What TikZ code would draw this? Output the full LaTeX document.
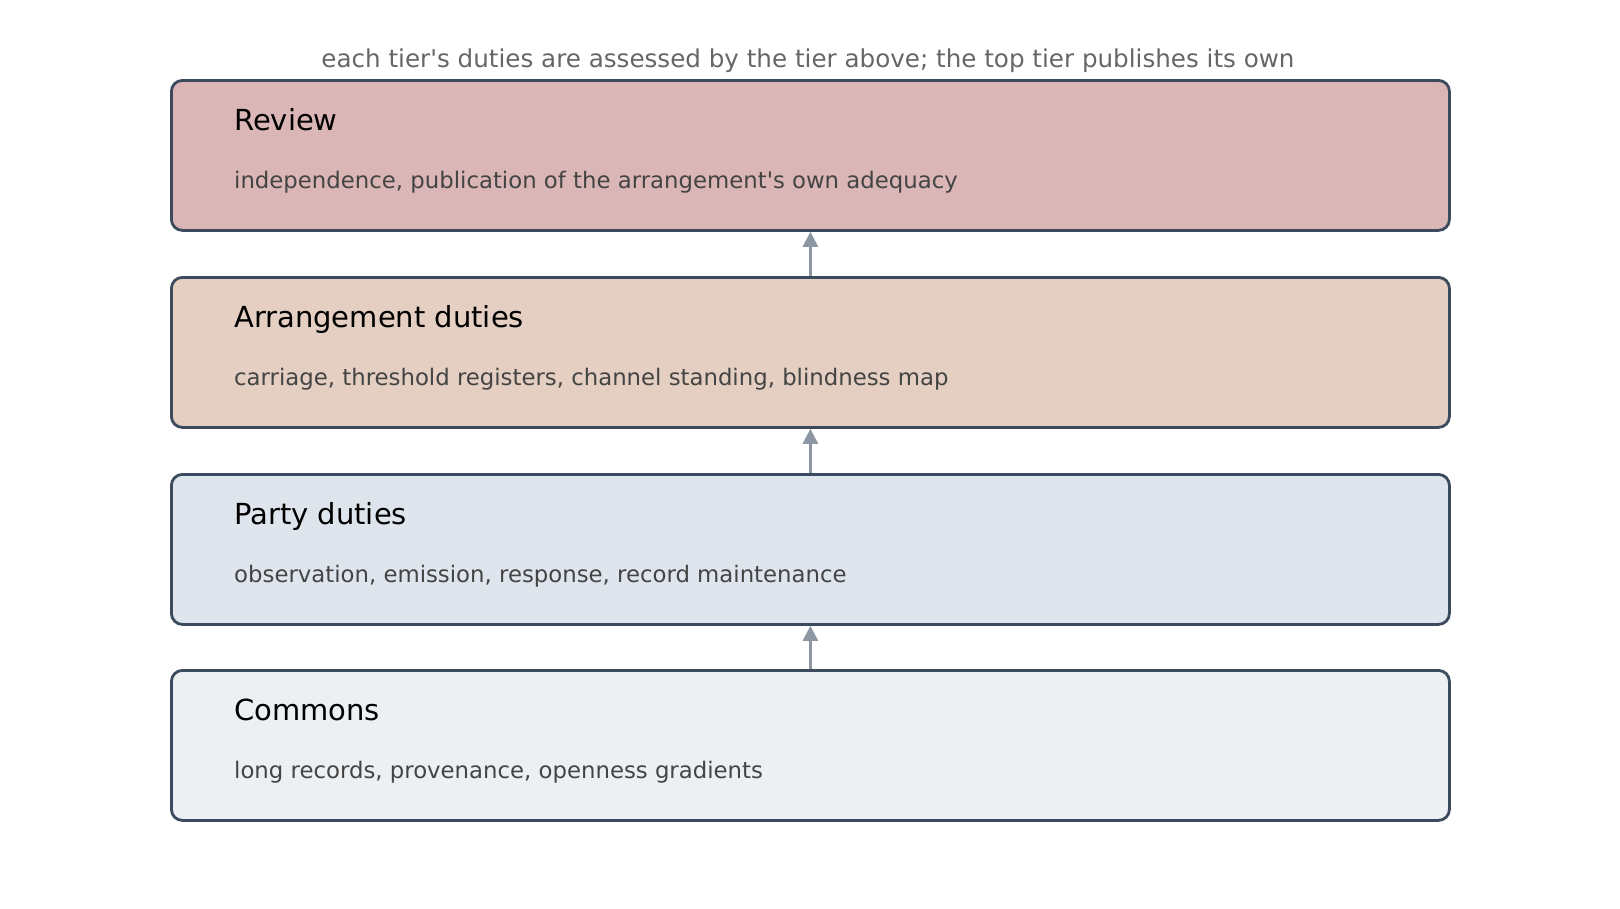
\documentclass[tikz,border=0pt]{standalone}
\usepackage{fontspec}
\setmainfont{DejaVu Sans}
\usetikzlibrary{arrows.meta,calc}
\definecolor{borderc}{HTML}{3B4A5C}
\definecolor{arrowc}{HTML}{8D97A3}
\definecolor{titlec}{HTML}{666666}
\definecolor{subc}{HTML}{444444}
\definecolor{headc}{HTML}{000000}
\definecolor{fillrev}{HTML}{DBB6B6}
\definecolor{fillarr}{HTML}{E4CFC2}
\definecolor{fillpar}{HTML}{DFE5EC}
\definecolor{fillcom}{HTML}{ECF0F3}
\tikzset{
  tierbox/.style={draw=borderc, line width=2.8pt, rounded corners=11pt,
    minimum width=1278pt, minimum height=150pt, inner sep=0pt, anchor=north west},
  tierhead/.style={anchor=base west, inner sep=0pt, text=headc, font=\fontsize{29}{33}\selectfont},
  tiersub/.style={anchor=base west, inner sep=0pt, text=subc, font=\fontsize{22.8}{26}\selectfont},
  uparrow/.style={draw=arrowc, line width=2.6pt, -{Triangle[length=15pt,width=15pt]}},
  toptitle/.style={anchor=base, inner sep=0pt, text=titlec, font=\fontsize{24.6}{28}\selectfont}
}
\begin{document}
\begin{tikzpicture}[x=1pt,y=-1pt]
\useasboundingbox (0,0) rectangle (1620,908);
\node[toptitle] (title) at (808,67) {each tier\textquotesingle s duties are assessed by the tier above; the top tier publishes its own};
\node[tierbox, fill=fillrev] (rev) at (170,79) {};
\node[tierbox, fill=fillarr] (arr) at (170,276) {};
\node[tierbox, fill=fillpar] (par) at (170,473) {};
\node[tierbox, fill=fillcom] (com) at (170,669) {};
\foreach \b/\h/\s in {rev/Review/{independence, publication of the arrangement\textquotesingle s own adequacy},
                      arr/Arrangement duties/{carriage, threshold registers, channel standing, blindness map},
                      par/Party duties/{observation, emission, response, record maintenance},
                      com/Commons/{long records, provenance, openness gradients}}{
  \node[tierhead] (\b-h) at ($(\b.north west)+(64,51.5)$) {\h};
  \node[tiersub] (\b-s) at ($(\b.north west)+(64,109)$) {\s};
}
\draw[uparrow] (arr.north) -- (rev.south);
\draw[uparrow] (par.north) -- (arr.south);
\draw[uparrow] (com.north) -- (par.south);
\end{tikzpicture}
\end{document}
